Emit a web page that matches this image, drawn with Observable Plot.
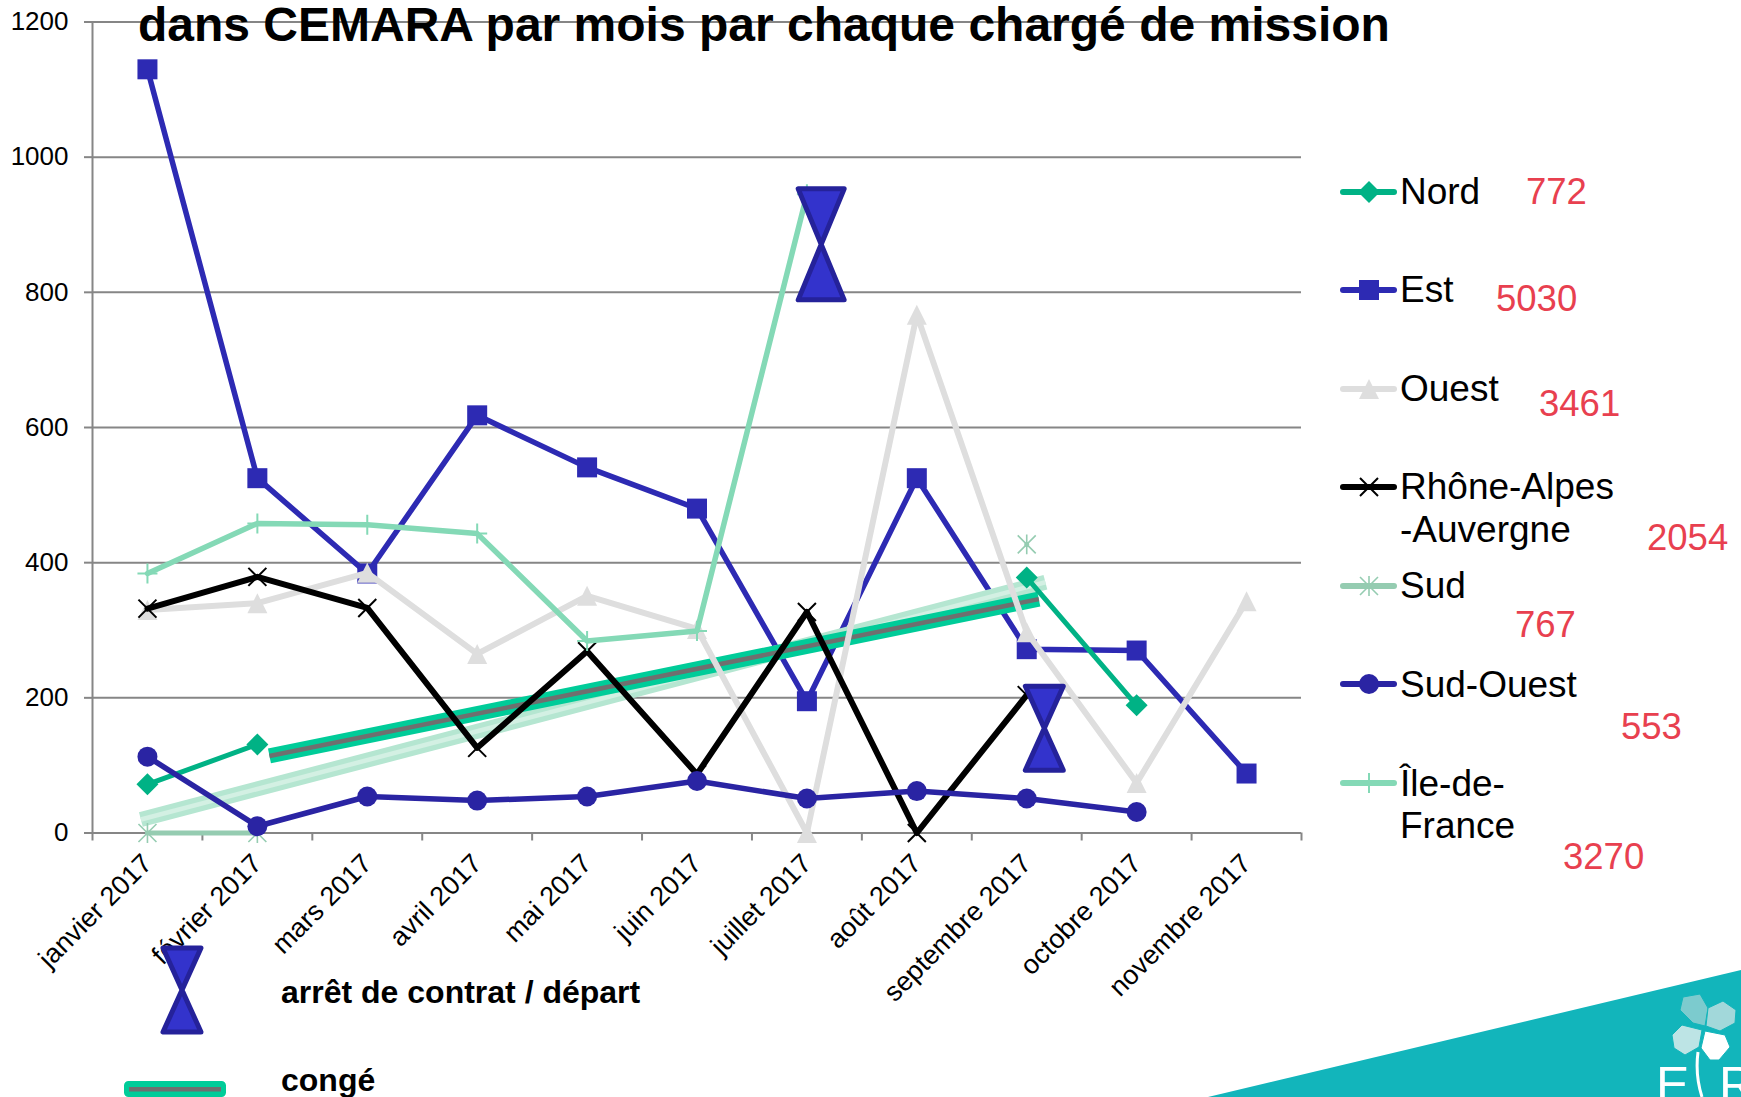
<!DOCTYPE html>
<html lang="fr"><head><meta charset="utf-8">
<script src="https://cdn.jsdelivr.net/npm/d3@7"></script>
<script src="https://cdn.jsdelivr.net/npm/@observablehq/plot@0.6"></script>
<style>
html,body{margin:0;padding:0;background:#fff;width:1741px;height:1097px;overflow:hidden;font-family:"Liberation Sans",Arial,sans-serif}
#root{position:relative;width:1741px;height:1097px;overflow:hidden}
#chart{position:absolute;left:0;top:0;width:1741px;height:1097px}
#chart svg{display:block;max-width:none;background:transparent}
.t{position:absolute;white-space:nowrap;line-height:1;color:#000}
.s{position:absolute;overflow:visible}
</style></head><body><div id="root"><div id="chart"></div></div>
<script>
const months = ["janvier 2017","février 2017","mars 2017","avril 2017","mai 2017","juin 2017","juillet 2017","août 2017","septembre 2017","octobre 2017","novembre 2017"];
const nord     = [72,131,null,null,null,null,null,null,378,189,null];
const est      = [1130,525,384,618,541,480,195,525,272,270,88];
const ouest    = [330,340,385,265,351,302,0,767,297,74,343];
const rhone    = [332,379,333,126,269,87,327,0,204,null,null];
const sud      = [0,0,null,null,null,null,null,null,427,null,null];
const sudOuest = [113,10,54,48,54,77,51,62,51,31,null];
const ile      = [384,458,456,443,284,299,945,null,null,null,null];
const yTicks = [0,200,400,600,800,1000,1200];
const congeFonce = {x:[1.61,8.61], y:[114,346]};
const congeClair = {x:[0.44,8.67], y:[20,371]};
const departs = {x:[6.63,8.66], y:[871,155]};
const titre = "dans CEMARA par mois par chaque chargé de mission";

const tri = {draw(c,s){const r=Math.sqrt(s/Math.PI);c.moveTo(0,-r);c.lineTo(r,r);c.lineTo(-r,r);c.closePath();}};
const dia = {draw(c,s){const r=Math.sqrt(s/Math.PI);c.moveTo(0,-r);c.lineTo(r,0);c.lineTo(0,r);c.lineTo(-r,0);c.closePath();}};
const squ = {draw(c,s){const r=Math.sqrt(s/Math.PI);c.rect(-r,-r,2*r,2*r);}};
const crs = {draw(c,s){const r=Math.sqrt(s/Math.PI);c.moveTo(-r,-r);c.lineTo(r,r);c.moveTo(r,-r);c.lineTo(-r,r);}};
const plu = {draw(c,s){const r=Math.sqrt(s/Math.PI);c.moveTo(-r,0);c.lineTo(r,0);c.moveTo(0,-r);c.lineTo(0,r);}};
const ast = {draw(c,s){const r=Math.sqrt(s/Math.PI);c.moveTo(-r,-r);c.lineTo(r,r);c.moveTo(r,-r);c.lineTo(-r,r);c.moveTo(0,-r*1.1);c.lineTo(0,r*1.1);}};
const cir = {draw(c,s){const r=Math.sqrt(s/Math.PI);c.moveTo(r,0);c.arc(0,0,r,0,2*Math.PI);}};
const glass = (w,h)=>({draw(c){c.moveTo(-w/2,-h/2);c.lineTo(w/2,-h/2);c.lineTo(-w/2,h/2);c.lineTo(w/2,h/2);c.closePath();}});

const S = {
  nord:{name:"Nord",v:nord,color:"#00b285",w:5,sym:dia,r:11,filled:true},
  est:{name:"Est",v:est,color:"#2d2ab3",w:5.5,sym:squ,r:10,filled:true},
  ouest:{name:"Ouest",v:ouest,color:"#dedede",w:6,sym:tri,r:10,filled:true},
  rhone:{name:"Rhône",v:rhone,color:"#000000",w:6,sym:crs,r:9,filled:false,mw:2},
  sud:{name:"Sud",v:sud,color:"#95ccb1",w:5,sym:ast,r:9,filled:false,mw:1.6},
  so:{name:"Sud-Ouest",v:sudOuest,color:"#2a24a3",w:5.5,sym:cir,r:10,filled:true},
  ile:{name:"Île",v:ile,color:"#84d9b6",w:5.5,sym:plu,r:10,filled:false,mw:2}
};
const pos = months.map((_,i)=>i+0.5);
const seriesMarks = s=>[
  Plot.line(pos,{x:d=>d,y:(d,i)=>s.v[i],stroke:s.color,strokeWidth:s.w,strokeLinejoin:"round"}),
  s.filled
   ? Plot.dot(pos,{x:d=>d,y:(d,i)=>s.v[i],symbol:s.sym,r:s.r,fill:s.color,stroke:"none"})
   : Plot.dot(pos,{x:d=>d,y:(d,i)=>s.v[i],symbol:s.sym,r:s.r,fill:"none",stroke:s.color,strokeWidth:s.mw})
];
const band = (d,color,w)=>Plot.line(d.x,{x:a=>a,y:(a,i)=>d.y[i],stroke:color,strokeWidth:w,strokeLinecap:"butt"});
const GRAY="#868686";
const plot = Plot.plot({
  width:1741,height:1097,marginLeft:92,marginRight:440,marginTop:21.5,marginBottom:264.5,
  x:{domain:[0,11],axis:null},y:{domain:[0,1200],axis:null},
  style:{background:"transparent",fontFamily:"'Liberation Sans',Arial,sans-serif"},
  marks:[
    Plot.ruleY(yTicks,{stroke:GRAY,strokeWidth:2}),
    Plot.ruleX([0],{stroke:GRAY,strokeWidth:2}),
    Plot.axisY({ticks:yTicks,tickSize:8,tickPadding:16,fontSize:26,stroke:GRAY,strokeWidth:2,fill:"#000",label:null,tickFormat:d=>String(d)}),
    Plot.axisX({ticks:d3.range(0,12),tickSize:8,stroke:GRAY,strokeWidth:2,tickFormat:()=>"",label:null}),
    Plot.axisX({ticks:pos,tickSize:0,tickPadding:26,fontSize:27,tickRotate:-45,fill:"#000",label:null,tickFormat:d=>months[d-0.5]}),
    ...seriesMarks(S.est),
    band(congeClair,"#b5e6d1",15),band(congeClair,"#d3f0e3",4.5),
    band(congeFonce,"#00cc99",15),band(congeFonce,"#6f6f6f",4.5),
    ...seriesMarks(S.nord),
    ...seriesMarks(S.ouest),
    ...seriesMarks(S.rhone),
    ...seriesMarks(S.sud),
    ...seriesMarks(S.so),
    ...seriesMarks(S.ile),
    Plot.dot([0],{x:()=>departs.x[0],y:()=>departs.y[0],symbol:glass(46,111),r:1,fill:"#3333cc",stroke:"#25229a",strokeWidth:5,strokeLinejoin:"round"}),
    Plot.dot([0],{x:()=>departs.x[1],y:()=>departs.y[1],symbol:glass(38,84),r:1,fill:"#3333cc",stroke:"#25229a",strokeWidth:5,strokeLinejoin:"round"})
  ]
});
const root=document.getElementById("root");
document.getElementById("chart").append(plot);

function text(str,x,cy,size,opt={}){const e=document.createElement("div");e.className="t";e.textContent=str;
  e.style.left=x+"px";e.style.top=(cy-size/2)+"px";e.style.fontSize=size+"px";
  if(opt.bold)e.style.fontWeight="bold";if(opt.color)e.style.color=opt.color;root.append(e);return e;}
const NS="http://www.w3.org/2000/svg";
function svgEl(inner,x,y,w,h,cls="s"){const e=document.createElementNS(NS,"svg");e.setAttribute("class",cls);e.setAttribute("width",w);e.setAttribute("height",h);
  e.style.left=x+"px";e.style.top=y+"px";e.innerHTML=inner;root.append(e);return e;}
function path(sym,r){const p=d3.path();sym.draw(p,Math.PI*r*r);return p.toString();}
function legendRow(s,cy){
  const m=s.filled?`fill="${s.color}"`:`fill="none" stroke="${s.color}" stroke-width="${s.mw}"`;
  svgEl(`<line x1="3" x2="54" y1="15" y2="15" stroke="${s.color}" stroke-width="6" stroke-linecap="round"/><path transform="translate(29,15)" d="${path(s.sym,s.r)}" ${m}/>`,1340,cy-15,58,30);
}
const RED="#e8404f";
text(titre,138,25,48,{bold:true});
[[S.nord,192],[S.est,290],[S.ouest,389],[S.rhone,487],[S.sud,586],[S.so,684],[S.ile,783]].forEach(([s,y])=>legendRow(s,y));
[["Nord",191],["Est",289],["Ouest",388],["Rhône-Alpes",486],["-Auvergne",529],["Sud",585],["Sud-Ouest",684],["Île-de-",783],["France",825]].forEach(([t,y])=>text(t,1400,y,37));
[["772",1526,192],["5030",1496,299],["3461",1539,404],["2054",1647,538],["767",1515,625],["553",1621,727],["3270",1563,857]].forEach(([t,x,y])=>text(t,x,y,36.5,{color:RED}));
svgEl(`<path transform="translate(30,50)" d="${path(glass(38,84),1)}" fill="#3333cc" stroke="#25229a" stroke-width="5" stroke-linejoin="round"/>`,152,940,60,100);
text("arrêt de contrat / départ",281,992,32,{bold:true});
svgEl(`<rect x="1.5" y="1.5" width="99" height="13" rx="3" fill="#00cc99" stroke="#00cc99" stroke-width="3"/><rect x="5" y="6" width="92" height="4.5" fill="#6f6f6f"/>`,124,1081,102,16);
text("congé",281,1080,32,{bold:true});
// bandeau et logo
svgEl(`<polygon points="1208,1097 1741,970 1741,1097" fill="#12b5bb"/>
<g stroke="#12b5bb" stroke-width="1" stroke-linejoin="round">
<polygon points="1683,997 1700,994 1708,1008 1705,1026 1693,1023 1680,1010" fill="#7ccbce"/>
<polygon points="1723,1001 1736,1010 1735,1023 1720,1031 1706,1026 1708,1008" fill="#a2d8da"/>
<polygon points="1682,1025 1702,1030 1699,1047 1685,1055 1674,1048 1672,1035" fill="#bde4e5"/>
<polygon points="1705,1031 1725,1035 1730,1047 1719,1060 1710,1060 1701,1048" fill="#ffffff"/></g>
<path d="M1698,1052 Q1695,1075 1702,1097" fill="none" stroke="#fff" stroke-width="3"/>`,0,0,1741,1097);
const l1=text("E",1656,1086,50,{color:"#fff"});l1.style.top="1060px";
const l2=text("R",1719,1086,50,{color:"#fff"});l2.style.top="1060px";
</script></body></html>
